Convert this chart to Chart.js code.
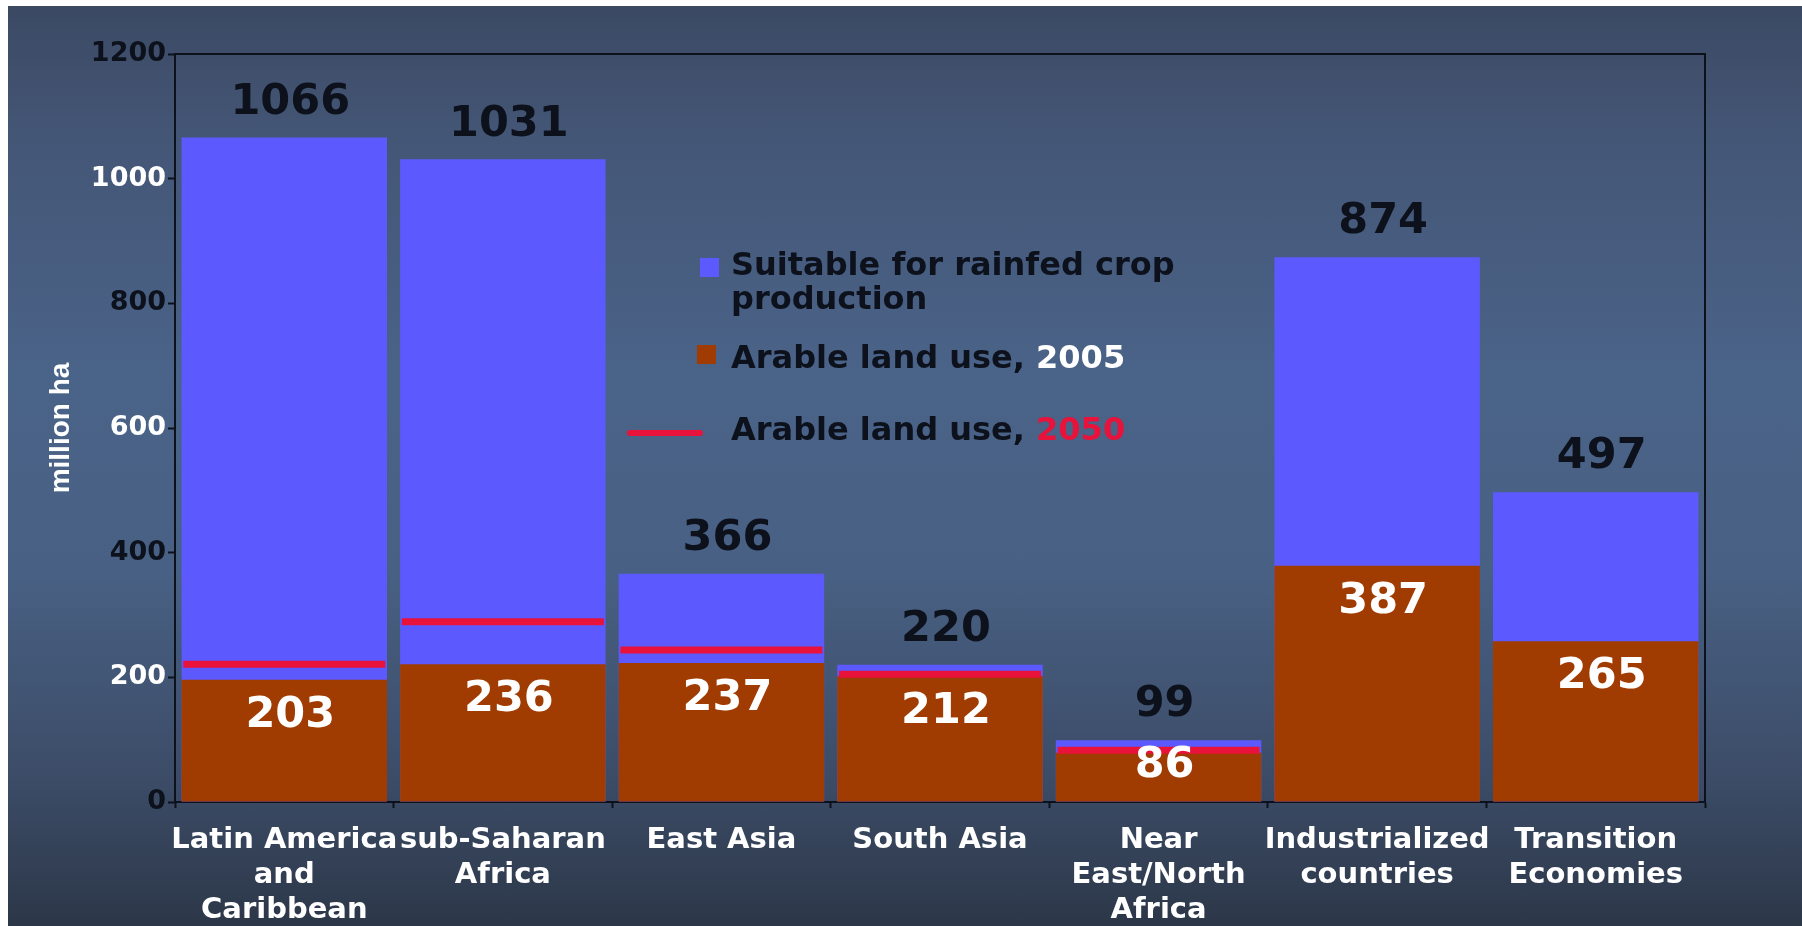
<!DOCTYPE html>
<html>
<head>
<meta charset="utf-8">
<script src="https://cdn.jsdelivr.net/npm/chart.js@4.4.1/dist/chart.umd.min.js"></script>
<style>
  html, body { margin: 0; padding: 0; background: #ffffff; }
  #wrap { position: relative; width: 1802px; height: 926px; overflow: hidden; }
  #bg {
    position: absolute; left: 8px; top: 6px; right: 0; bottom: 0;
    background: linear-gradient(to bottom, #3b4963 0%, #445676 14%, #4a6388 40%, #486083 62%, #3c4c67 84%, #2c3748 100%);
  }
  #land-chart { position: absolute; left: 0; top: 0; }
</style>
</head>
<body>
<div id="wrap">
  <div id="bg"></div>
  <canvas id="land-chart" width="1802" height="926"></canvas>
</div>
<script>
const regions = [
  ['Latin America', 'and', 'Caribbean'],
  ['sub-Saharan', 'Africa'],
  'East Asia',
  'South Asia',
  ['Near', 'East/North', 'Africa'],
  ['Industrialized', 'countries'],
  ['Transition', 'Economies'],
];

// million ha
const suitable = [1066, 1031, 366, 220, 99, 874, 497];
const arable2005 = [196, 221, 223, 202, 79, 379, 258];
const arable2005Labels = ['203', '236', '237', '212', '86', '387', '265'];
const arable2050 = [221, 289, 244, 205, 83, null, null];

const yTicks = [0, 200, 400, 600, 800, 1000, 1200];

const BLUE = '#5c5aff';
const BROWN = '#a03c02';
const RED = '#e8123a';
const DARK = '#0c111c';
const FONT = '"DejaVu Sans", "Liberation Sans", sans-serif';

// legend box inside the plot, drawn by hand
const legendPlugin = {
  id: 'slideLegend',
  afterDatasetsDraw(chart) {
    const ctx = chart.ctx;
    ctx.save();
    ctx.font = 'bold 32px ' + FONT;
    ctx.textBaseline = 'middle';
    ctx.textAlign = 'left';

    ctx.fillStyle = BLUE;
    ctx.fillRect(700, 258, 19, 19);
    ctx.fillStyle = DARK;
    ctx.fillText('Suitable for rainfed crop', 731, 267);
    ctx.fillText('production', 731, 301);

    ctx.fillStyle = BROWN;
    ctx.fillRect(697, 345, 19, 19);
    ctx.fillStyle = DARK;
    let t = 'Arable land use, ';
    ctx.fillText(t, 731, 360);
    ctx.fillStyle = '#ffffff';
    ctx.fillText('2005', 731 + ctx.measureText(t).width, 360);

    ctx.strokeStyle = RED;
    ctx.lineWidth = 6;
    ctx.lineCap = 'round';
    ctx.beginPath();
    ctx.moveTo(630, 433);
    ctx.lineTo(700, 433);
    ctx.stroke();
    ctx.fillStyle = DARK;
    ctx.fillText(t, 731, 432);
    ctx.fillStyle = RED;
    ctx.fillText('2050', 731 + ctx.measureText(t).width, 432);
    ctx.restore();
  }
};

// numbers above / inside the bars
const valuePlugin = {
  id: 'barValues',
  afterDatasetsDraw(chart) {
    const ctx = chart.ctx;
    ctx.save();
    ctx.font = 'bold 43px ' + FONT;
    ctx.textAlign = 'center';
    ctx.textBaseline = 'middle';
    chart.getDatasetMeta(0).data.forEach((bar, i) => {
      ctx.fillStyle = DARK;
      ctx.fillText(String(suitable[i]), bar.x + 6, bar.y - 35);
    });
    chart.getDatasetMeta(1).data.forEach((bar, i) => {
      ctx.fillStyle = '#ffffff';
      const y = Math.min(bar.y + 36, bar.base - 36);
      ctx.fillText(arable2005Labels[i], bar.x + 6, y);
    });
    ctx.restore();
  }
};

// thin frame on top and right of the plot
const framePlugin = {
  id: 'frame',
  afterDraw(chart) {
    const {ctx, chartArea: a} = chart;
    ctx.save();
    ctx.strokeStyle = DARK;
    ctx.lineWidth = 2;
    ctx.beginPath();
    ctx.moveTo(a.left, a.top);
    ctx.lineTo(a.right, a.top);
    ctx.lineTo(a.right, a.bottom);
    ctx.stroke();
    ctx.restore();
  }
};

const config = {
  type: 'bar',
  data: {
    labels: regions,
    datasets: [
      {
        label: 'Suitable for rainfed crop production',
        data: suitable,
        backgroundColor: BLUE,
        grouped: false,
        order: 2,
        barPercentage: 0.94,
        categoryPercentage: 1,
      },
      {
        label: 'Arable land use, 2005',
        data: arable2005,
        backgroundColor: BROWN,
        grouped: false,
        order: 1,
        barPercentage: 0.94,
        categoryPercentage: 1,
      },
      {
        type: 'line',
        label: 'Arable land use, 2050',
        data: arable2050,
        showLine: false,
        clip: false,
        order: 0,
        pointStyle: 'line',
        pointRadius: 101,
        pointBorderWidth: 7,
        pointBorderColor: RED,
        pointBackgroundColor: RED,
      },
    ],
  },
  options: {
    responsive: false,
    animation: false,
    events: [],
    layout: { autoPadding: false, padding: { left: 0, right: 97, top: 54, bottom: 0 } },
    plugins: {
      legend: { display: false },
      tooltip: { enabled: false },
    },
    scales: {
      x: {
        grid: {
          offset: true,
          drawOnChartArea: false,
          drawTicks: true,
          tickLength: 6,
          tickColor: DARK,
          tickWidth: 2,
        },
        border: { display: true, color: DARK, width: 2 },
        ticks: {
          color: '#ffffff',
          autoSkip: false,
          maxRotation: 0,
          minRotation: 0,
          padding: 15,
          font: { family: FONT, size: 29, weight: 'bold', lineHeight: 1.2 },
        },
        afterFit(scale) { scale.height = 124; },
      },
      y: {
        min: 0,
        max: 1200,
        afterBuildTicks(scale) { scale.ticks = yTicks.map(v => ({ value: v })); },
        grid: {
          drawOnChartArea: false,
          drawTicks: true,
          tickLength: 7,
          tickColor: DARK,
          tickWidth: 2,
        },
        border: { display: true, color: DARK, width: 2 },
        ticks: {
          padding: 2,
          callback: v => String(v),
          color: ctx => (ctx.index % 2 === 0 ? DARK : '#ffffff'),
          font: { family: FONT, size: 27, weight: 'bold' },
        },
        title: {
          display: true,
          text: 'million ha',
          color: '#ffffff',
          padding: { top: 44, bottom: 0 },
          font: { family: '"Liberation Sans", Arial, sans-serif', size: 28, weight: 'bold' },
        },
        afterFit(scale) { scale.width = 175; },
      },
    },
  },
  plugins: [legendPlugin, valuePlugin, framePlugin],
};

const landChart = new Chart(document.getElementById('land-chart'), config);
</script>
</body>
</html>
